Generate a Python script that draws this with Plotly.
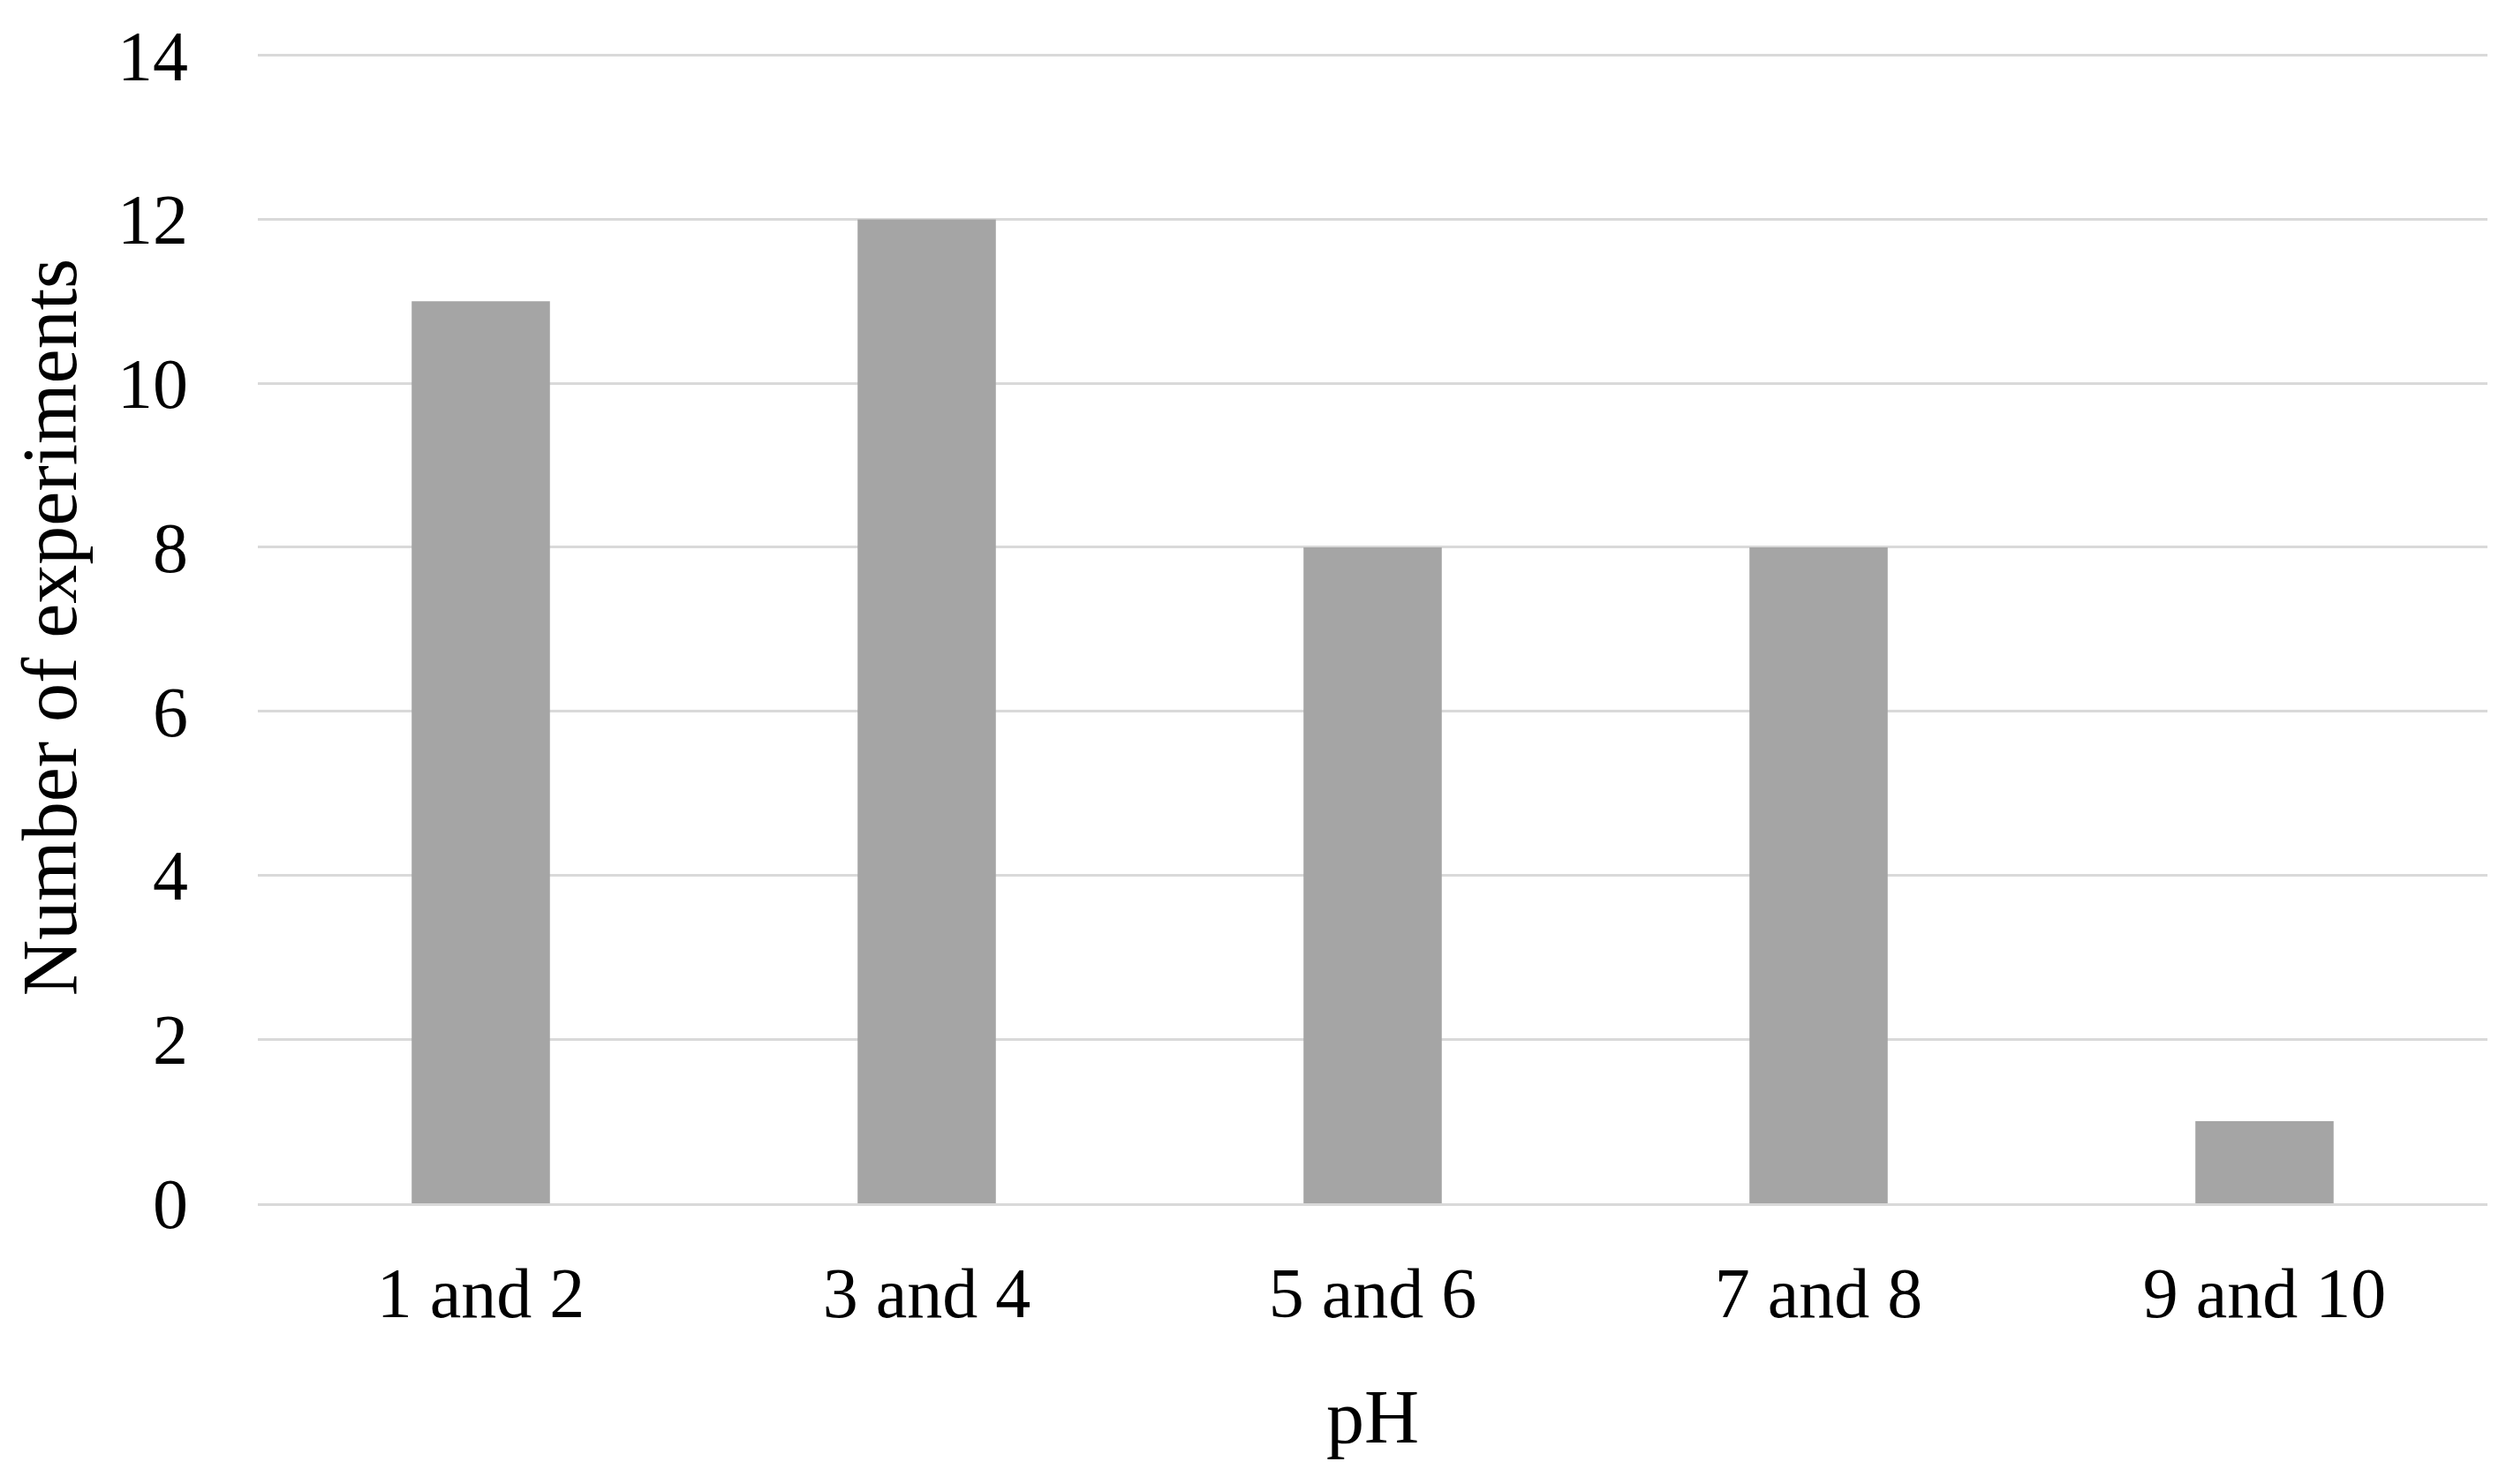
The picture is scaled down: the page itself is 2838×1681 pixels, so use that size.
import plotly.graph_objects as go

categories = ["1 and 2", "3 and 4", "5 and 6", "7 and 8", "9 and 10"]
experiments = [11, 12, 8, 8, 1]
y_ticks = [0, 2, 4, 6, 8, 10, 12, 14]

FONT = "Palatino Linotype, Book Antiqua, Liberation Serif, serif"

fig = go.Figure(
    go.Bar(
        x=categories,
        y=experiments,
        marker=dict(color="#a5a5a5", line=dict(width=0)),
    )
)

fig.update_layout(
    width=2838,
    height=1681,
    paper_bgcolor="white",
    plot_bgcolor="white",
    bargap=0.69,
    showlegend=False,
    margin=dict(l=284, r=29, t=50, b=326),
    font=dict(family=FONT, size=80, color="black"),
)

fig.update_xaxes(
    title=dict(text="pH", font=dict(size=86), standoff=66),
    showline=True,
    linecolor="#d9d9d9",
    linewidth=3,
    ticks="",
    ticklabelstandoff=30,
    tickfont=dict(size=80),
)
# top of range nudged past 14 so the 14 gridline is drawn
fig.update_yaxes(
    title=dict(text="Number of experiments", font=dict(size=88), standoff=34),
    range=[0, 14.05],
    tickvals=y_ticks,
    showgrid=True,
    gridcolor="#d9d9d9",
    gridwidth=3,
    zeroline=False,
    ticks="",
    ticklabelstandoff=78,
    tickfont=dict(size=80),
)

fig.write_html("out.html")
